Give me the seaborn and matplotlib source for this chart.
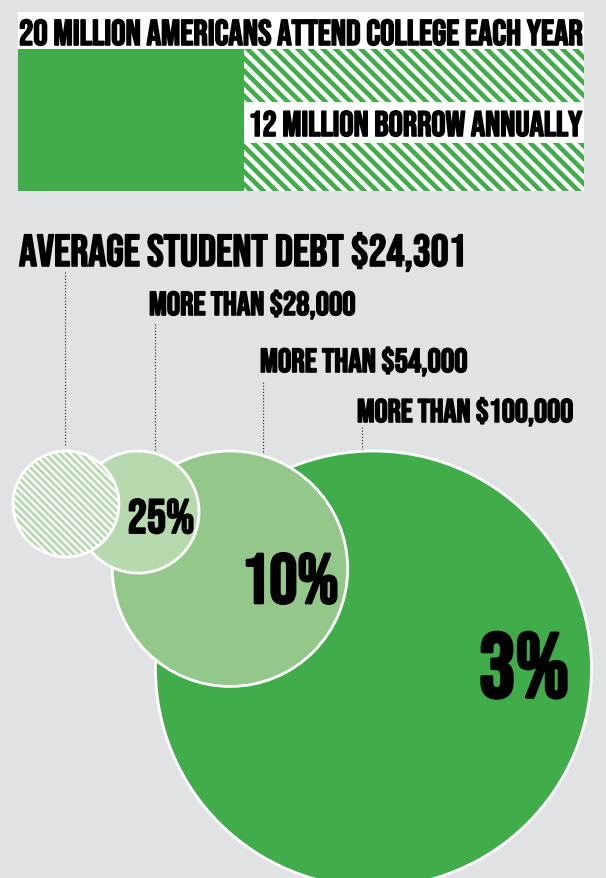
import matplotlib
matplotlib.use("Agg")
import numpy as np
import matplotlib.pyplot as plt
import matplotlib.patheffects as pe
from matplotlib.patches import Rectangle, Circle
from matplotlib.collections import LineCollection
import seaborn as sns

# ---------------- data ----------------
total_students_m = 20          # million Americans attend college each year
borrowers_m = 12               # million borrow annually
header_text = "20 million Americans attend college each year"
borrow_text = "12 million borrow annually"
debt_labels = ["Average student debt $24,301", "More than $28,000",
               "More than $54,000", "More than $100,000"]
debt_amounts = [24301, 28000, 54000, 100000]
share_labels = ["", "25%", "10%", "3%"]

# ---------------- layout / style ----------------
W, H, DPI = 606, 878, 72
BG = "#e1e2e4"
GREEN = "#41ac4a"
MID = "#94c88b"
LIGHT = "#b6d9ad"
FONT = "Bebas Neue"

sns.set_theme(style="white")
plt.rcParams["font.family"] = [FONT, "DejaVu Sans"]

fig = plt.figure(figsize=(W / DPI, H / DPI), dpi=DPI, facecolor=BG)

# main pixel-space axes (y down)
ax = fig.add_axes([0, 0, 1, 1])
ax.patch.set_alpha(0)
ax.set_xlim(0, W)
ax.set_ylim(H, 0)
ax.axis("off")

# bar axes (px 18..584 horizontally, 49..191 vertically)
bx0, bx1, by0, by1 = 18, 584, 49, 191
ax_bar = fig.add_axes([bx0 / W, 1 - by1 / H, (bx1 - bx0) / W, (by1 - by0) / H])
sns.barplot(x=[total_students_m], y=["students"], orient="h", color=GREEN,
            saturation=1, width=1, ax=ax_bar, edgecolor="none", linewidth=0)
ax_bar.barh(0, borrowers_m, left=total_students_m - borrowers_m, height=1,
            color=GREEN, edgecolor="none", linewidth=0)
ax_bar.set_xlim(0, total_students_m)
ax_bar.set_ylim(-0.5, 0.5)
ax_bar.axis("off")


def to_px(axes, x, y):
    """data coords of `axes` -> pixel coords of main axes (y down)"""
    return ax.transData.inverted().transform(axes.transData.transform((x, y)))


def stripes(target_ax, clip_rect_or_circle, x0, x1, y0, y1, pitch, lw, color, z):
    """diagonal '\\' texture in pixel space, clipped to a patch given in pixel space"""
    bs = np.arange(y0 - x1, y1 - x0 + pitch, pitch)
    segs = [[(x0, x0 + b), (x1, x1 + b)] for b in bs]
    lc = LineCollection(segs, colors=color, linewidths=lw, transform=ax.transData,
                        zorder=z, capstyle="butt")
    clip_rect_or_circle.set_transform(ax.transData)
    lc.set_clip_path(clip_rect_or_circle.get_path(), clip_rect_or_circle.get_transform())
    target_ax.add_collection(lc, autolim=False)


# borrowers segment in pixel space, for its stripe texture
hx0, hy0 = to_px(ax_bar, total_students_m - borrowers_m, 0.5)
hx1, hy1 = to_px(ax_bar, total_students_m, -0.5)
stripes(ax_bar, Rectangle((hx0, hy0), hx1 - hx0, hy1 - hy0), hx0 - 5, hx1 + 5,
        hy0 - 5, hy1 + 5, 12.6, 4.3, "white", 3)

# white label band across the borrowers segment
band_top, band_bot = 102, 143
ax_bar.add_patch(Rectangle((total_students_m - borrowers_m, 1 - (band_bot - by0) / (by1 - by0)),
                           borrowers_m, (band_bot - band_top) / (by1 - by0),
                           transform=ax_bar.get_xaxis_transform(), facecolor="white",
                           edgecolor="none", zorder=5))

renderer = fig.canvas.get_renderer()
bold = [pe.withStroke(linewidth=1.6, foreground="black")]


def fit_text(target_ax, x0, x1, y, s, ha="left", **kw):
    t = target_ax.text(x0 if ha == "left" else x1, y, s, fontsize=40, va="baseline", ha=ha,
                       color="black", family=[FONT, "DejaVu Sans"], transform=ax.transData,
                       path_effects=bold, **kw)
    w = t.get_window_extent(renderer).width
    t.set_fontsize(40 * (x1 - x0) / w)
    return t


# header band
ax.add_patch(Rectangle((18, 12), 566, 37, facecolor="white", edgecolor="none"))
fit_text(ax, 19, 583, 45, header_text)
fit_text(ax_bar, 248, 582, 136, borrow_text, ha="right", zorder=6)

# circles
scale = 218 / max(debt_amounts)     # radius in px per dollar
circle_top = 451
circle_x = [66, 138, 230, 373.5]
faces = ["white", LIGHT, MID, GREEN]
for i in range(len(debt_amounts) - 1, -1, -1):
    r = debt_amounts[i] * scale
    cx, cy = circle_x[i], circle_top + r
    z = 10 + (len(debt_amounts) - i) * 3
    ax.add_patch(Circle((cx, cy), r, facecolor=faces[i], edgecolor="none",
                        linewidth=0, zorder=z))
    if i == 0:
        stripes(ax, Circle((cx, cy), r), cx - r - 5, cx + r + 5, cy - r - 5, cy + r + 5,
                7.2, 2.7, LIGHT, z + 1)
    ax.add_patch(Circle((cx, cy), r, facecolor="none", edgecolor="white",
                        linewidth=2.8, zorder=z + 2))

# share labels inside circles
share_pos = [None, (161, 533), (290, 603), (524, 697)]
share_size = [0, 48, 70, 91]
for lab, pos, fs in zip(share_labels, share_pos, share_size):
    if lab:
        ax.text(pos[0], pos[1], lab, fontsize=fs, ha="center", va="baseline",
                color="black", zorder=40,
                path_effects=[pe.withStroke(linewidth=fs / 26, foreground="black")])

# debt labels and dotted leader lines
label_box = [(19, 467, 266), (149, 356, 315), (260, 468, 372), (357, 574, 422)]
for lab, (x0, x1, y) in zip(debt_labels, label_box):
    fit_text(ax, x0, x1, y, lab)

leader_x = [65, 155, 263, 362]
leader_top = [272, 324, 382, 427]
leader_bot = [446, 451, 454, 456]
for x, y0, y1 in zip(leader_x, leader_top, leader_bot):
    ax.plot([x, x], [y0, y1], color="#333333", linestyle=(0, (1, 1.6)), linewidth=1.2,
            zorder=5)

fig.savefig("out.png", dpi=DPI, facecolor=BG)
